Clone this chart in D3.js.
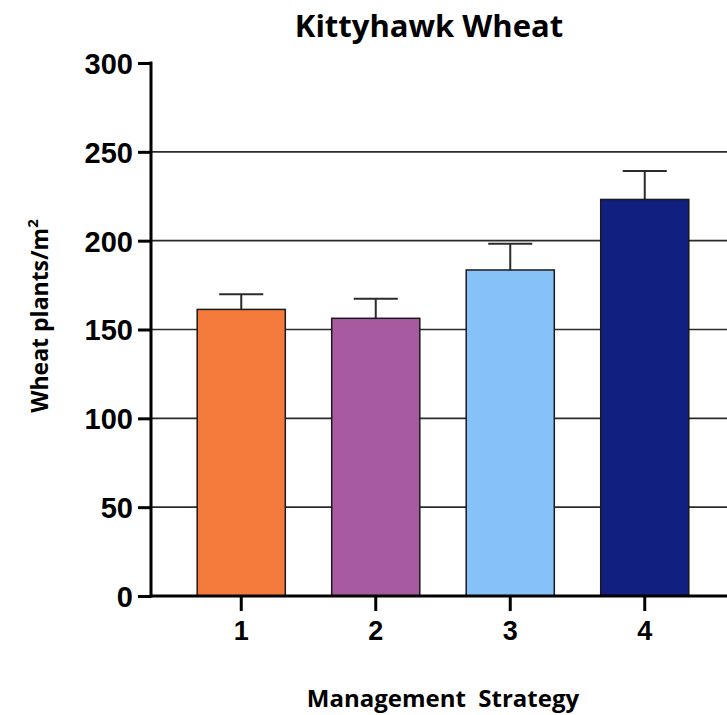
<!DOCTYPE html>
<html>
<head>
<meta charset="utf-8">
<script src="https://cdn.jsdelivr.net/npm/d3@7"></script>
<style>
  body { margin: 0; background: #fff; }
  .tick text { font-family: "Liberation Sans", Arial, sans-serif; font-weight: bold; }
</style>
</head>
<body>
<div id="chart"></div>
<script>
// data
const strategies = ["1", "2", "3", "4"];
const means = [161.3, 156.3, 183.5, 223.2];
const errs = [8.5, 11, 14.8, 16];
const barColors = ["#F57B3C", "#A85AA0", "#86C1F7", "#112080"];
const yTicks = [0, 50, 100, 150, 200, 250, 300];

const svgWidth = 727;
const svgHeight = 715;

const svg = d3.select("#chart")
  .append("svg")
  .attr("width", svgWidth)
  .attr("height", svgHeight);

const data = strategies.map((s, i) => ({ s: s, mean: means[i], err: errs[i], color: barColors[i] }));

// scales
const x = d3.scaleBand()
  .domain(strategies)
  .range([174, 712])
  .paddingInner(0.345)
  .paddingOuter(0.1725);

const y = d3.scaleLinear()
  .domain([0, 300])
  .range([596, 63]);

const axisX = 151;

// gridlines
svg.append("g")
  .selectAll("line")
  .data(yTicks.filter(d => d > 0 && d < 300))
  .enter()
  .append("line")
  .attr("x1", axisX)
  .attr("x2", svgWidth)
  .attr("y1", d => y(d))
  .attr("y2", d => y(d))
  .attr("stroke", "#2b2b2b")
  .attr("stroke-width", 1.6);

// error bars (behind bars)
const errG = svg.append("g")
  .attr("stroke", "#2b2b2b")
  .attr("stroke-width", 2);

errG.selectAll("line.stem")
  .data(data)
  .enter()
  .append("line")
  .attr("class", "stem")
  .attr("x1", d => x(d.s) + x.bandwidth() / 2)
  .attr("x2", d => x(d.s) + x.bandwidth() / 2)
  .attr("y1", d => y(d.mean))
  .attr("y2", d => y(d.mean + d.err));

errG.selectAll("line.cap")
  .data(data)
  .enter()
  .append("line")
  .attr("class", "cap")
  .attr("x1", d => x(d.s) + x.bandwidth() / 4)
  .attr("x2", d => x(d.s) + x.bandwidth() * 3 / 4)
  .attr("y1", d => y(d.mean + d.err))
  .attr("y2", d => y(d.mean + d.err));

// bars
svg.append("g")
  .selectAll("rect")
  .data(data)
  .enter()
  .append("rect")
  .attr("x", d => x(d.s))
  .attr("y", d => y(d.mean))
  .attr("width", x.bandwidth())
  .attr("height", d => y(0) - y(d.mean))
  .attr("fill", d => d.color)
  .attr("stroke", "#1a1a1a")
  .attr("stroke-width", 1.5);

// y axis
const leftAxis = d3.axisLeft(y)
  .tickValues(yTicks)
  .tickSize(13)
  .tickPadding(5);

const yAxis = svg.append("g")
  .attr("transform", `translate(${axisX}, 0)`)
  .call(leftAxis);

yAxis.select(".domain").remove();
yAxis.append("line")
  .attr("x1", 0).attr("x2", 0)
  .attr("y1", y(300) - 1.5).attr("y2", y(0) + 1.5)
  .attr("stroke", "#000")
  .attr("stroke-width", 3);
yAxis.selectAll(".tick line").attr("stroke", "#000").attr("stroke-width", 3);
yAxis.selectAll(".tick text")
  .attr("font-size", 29)
  .attr("fill", "#000")
  .attr("dy", "0.36em");

// x axis
const bottomAxis = d3.axisBottom(x)
  .tickSize(15)
  .tickPadding(10);

const xAxis = svg.append("g")
  .attr("transform", `translate(0, ${y(0)})`)
  .call(bottomAxis);

xAxis.select(".domain").remove();
xAxis.append("line")
  .attr("x1", axisX - 1.5).attr("x2", svgWidth)
  .attr("y1", 0).attr("y2", 0)
  .attr("stroke", "#000")
  .attr("stroke-width", 3);
xAxis.selectAll(".tick line").attr("stroke", "#000").attr("stroke-width", 3);
xAxis.selectAll(".tick text")
  .attr("font-size", 27)
  .attr("fill", "#000");

// title
svg.append("text")
  .attr("x", 429)
  .attr("y", 37)
  .attr("text-anchor", "middle")
  .attr("font-family", "'Open Sans', sans-serif")
  .attr("font-weight", "bold")
  .attr("font-size", 31)
  .text("Kittyhawk Wheat");

// x label
svg.append("text")
  .attr("x", 443)
  .attr("y", 707)
  .attr("text-anchor", "middle")
  .attr("font-family", "'Open Sans', sans-serif")
  .attr("font-weight", "bold")
  .attr("font-size", 24)
  .attr("xml:space", "preserve")
  .style("white-space", "pre")
  .text("Management  Strategy");

// y label
const yLabel = svg.append("text")
  .attr("transform", "translate(48, 316) rotate(-90)")
  .attr("text-anchor", "middle")
  .attr("font-family", "'Open Sans', sans-serif")
  .attr("font-weight", "bold")
  .attr("font-size", 23);

yLabel.append("tspan").text("Wheat plants/m");
yLabel.append("tspan")
  .attr("font-size", 15)
  .attr("dy", -10)
  .text("2");
</script>
</body>
</html>
